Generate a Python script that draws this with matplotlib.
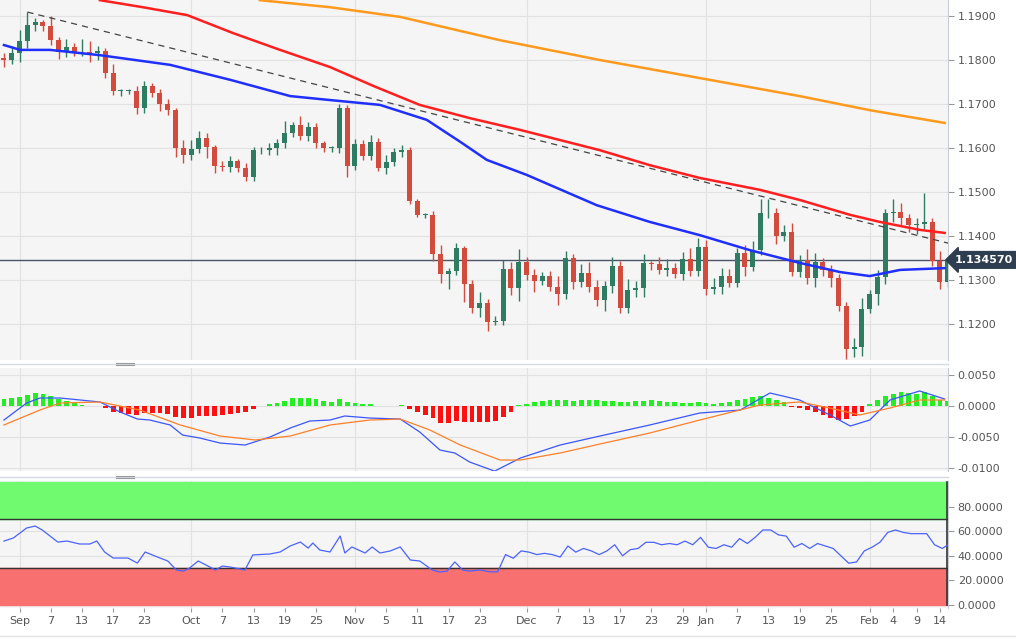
import numpy as np
import pandas as pd
import matplotlib
matplotlib.use("Agg")
import matplotlib.pyplot as plt
from matplotlib.patches import Rectangle

# ---------------- data ----------------
closes = [
    1.1800, 1.1816, 1.1843, 1.1880, 1.1886, 1.1877, 1.1845, 1.1818, 1.1830, 1.1818,
    1.1818, 1.1816, 1.1820, 1.1770, 1.1730, 1.1730, 1.1730, 1.1690, 1.1740, 1.1725,
    1.1700, 1.1686, 1.1600, 1.1584, 1.1598, 1.1623, 1.1602, 1.1559, 1.1557, 1.1570,
    1.1555, 1.1534, 1.1595, 1.1595, 1.1600, 1.1611, 1.1634, 1.1652, 1.1627, 1.1648,
    1.1611, 1.1600, 1.1600, 1.1690, 1.1559, 1.1609, 1.1582, 1.1614, 1.1555, 1.1568,
    1.1591, 1.1595, 1.1480, 1.1448, 1.1448, 1.1359, 1.1314, 1.1320, 1.1373, 1.1291,
    1.1236, 1.1248, 1.1205, 1.1207, 1.1325, 1.1282, 1.1341, 1.1311, 1.1298, 1.1309,
    1.1284, 1.1268, 1.1350, 1.1295, 1.1316, 1.1284, 1.1255, 1.1286, 1.1332, 1.1236,
    1.1277, 1.1282, 1.1339, 1.1337, 1.1323, 1.1327, 1.1314, 1.1348, 1.1320, 1.1375,
    1.1280, 1.1284, 1.1309, 1.1293, 1.1361, 1.1330, 1.1368, 1.1452, 1.1452, 1.1400,
    1.1409, 1.1318, 1.1345, 1.1305, 1.1341, 1.1323, 1.1305, 1.1241, 1.1143, 1.1148,
    1.1234, 1.1268, 1.1307, 1.1452, 1.1455, 1.1441, 1.1425, 1.1427, 1.1432, 1.1343,
    1.1295, 1.134570,
]
first_open = 1.1805
wick_up_pips = [
    12, 15, 25, 29, 10, 5, 22, 8, 18, 8,
    30, 25, 12, 8, 20, 5, 5, 10, 12, 8,
    10, 12, 5, 18, 20, 15, 12, 5, 12, 12,
    5, 10, 8, 8, 12, 10, 28, 8, 20, 12,
    8, 5, 5, 10, 8, 12, 10, 15, 8, 15,
    10, 12, 8, 5, 5, 8, 20, 8, 12, 5,
    10, 25, 8, 12, 20, 15, 30, 12, 15, 10,
    12, 25, 15, 10, 20, 25, 15, 12, 20, 12,
    25, 15, 20, 5, 15, 20, 12, 15, 25, 20,
    15, 20, 18, 15, 12, 18, 20, 31, 33, 12,
    15, 20, 12, 25, 20, 10, 12, 8, 10, 20,
    25, 10, 15, 10, 30, 20, 10, 15, 65, 8,
    22, 5,
]
wick_dn_pips = [
    15, 10, 20, 15, 15, 10, 10, 15, 12, 10,
    10, 20, 15, 12, 10, 12, 8, 12, 10, 10,
    15, 12, 20, 18, 12, 10, 25, 15, 10, 12,
    10, 10, 10, 8, 10, 15, 12, 8, 8, 12,
    10, 8, 8, 12, 25, 8, 10, 10, 8, 15,
    10, 12, 8, 5, 8, 15, 20, 35, 8, 41,
    12, 20, 20, 8, 10, 15, 30, 10, 25, 10,
    8, 25, 12, 15, 12, 12, 15, 25, 15, 10,
    12, 15, 20, 15, 10, 15, 10, 15, 10, 12,
    15, 12, 15, 10, 10, 20, 10, 12, 10, 18,
    12, 10, 12, 15, 20, 15, 20, 12, 22, 18,
    20, 10, 25, 15, 20, 15, 15, 20, 10, 12,
    15, 10,
]
last_price = 1.134570

# moving averages (bar index, value)
ma_blue_idx = [0, 2.1, 5.9, 12.3, 21.3, 29, 36.7, 41.8, 48.2, 54.2, 58.5, 61.9, 67, 76, 82.8, 89.2, 95.6, 102, 107.2, 111, 114.9, 120.6]
ma_blue_val = [1.1834, 1.1823, 1.1823, 1.1811, 1.1789, 1.1755, 1.1718, 1.1709, 1.1698, 1.1664, 1.1614, 1.1573, 1.1539, 1.1470, 1.1432, 1.1402, 1.1368, 1.1339, 1.1318, 1.1309, 1.1323, 1.1327]
ma_red_idx = [12.3, 17.8, 23.5, 29.4, 35.4, 41.8, 47.5, 53.3, 59.7, 66.2, 76.4, 82.8, 89.2, 96.9, 102, 108.5, 112.3, 117.4, 120.6]
ma_red_val = [1.1936, 1.1920, 1.1902, 1.1861, 1.1823, 1.1784, 1.1740, 1.1698, 1.1668, 1.1641, 1.1595, 1.1561, 1.1532, 1.1505, 1.1482, 1.1448, 1.1432, 1.1414, 1.1407]
ma_orange_idx = [32.8, 41.8, 50.8, 63.6, 76.4, 89.2, 102, 111, 120.6]
ma_orange_val = [1.1936, 1.1920, 1.1898, 1.1845, 1.1800, 1.1759, 1.1718, 1.1686, 1.1657]
trend_idx = [3, 121.9]
trend_val = [1.1909, 1.1380]

# MACD (values x 0.001)
macd_idx = [0, 2.9, 4.6, 7.2, 12.3, 14.9, 17.1, 18.7, 21.3, 22.9, 25.1, 27.7, 30.9, 34.1, 36.7, 39.2, 41.8, 43.7, 46.9, 50.8,
            53.3, 55.9, 57.8, 59.7, 62.9, 66.2, 71.3, 76.4, 82.8, 89.2, 94.4, 98.2, 102, 105.9, 108.5, 111, 113.6, 117.4, 120.6]
macd_val = [-2.26, 0.48, 1.29, 1.29, 0.65, -0.97, -2.1, -2.26, -3.06, -4.68, -5.16, -5.97, -6.29, -5.0, -3.55, -2.42, -2.26, -1.61, -1.94, -2.1,
            -4.19, -7.1, -7.58, -9.03, -10.5, -8.39, -6.29, -4.84, -3.06, -1.13, -0.65, 2.1, 0.97, -1.45, -3.23, -2.26, 0.97, 2.42, 1.13]
signal_idx = [0, 4.6, 7.2, 12.3, 17.4, 22.6, 27.7, 32.2, 36.7, 41.8, 46.9, 50.8, 54.6, 58.5, 63.6, 66.2, 71.3, 76.4, 82.8, 89.2,
              96.9, 102, 105.9, 109.7, 113.6, 117.4, 120.6]
signal_val = [-3.06, -0.65, 0.48, 0.65, -0.65, -3.06, -4.84, -5.48, -4.84, -3.06, -2.26, -2.1, -3.87, -6.29, -8.71, -8.71, -7.58, -6.13, -4.35, -2.26,
              0.16, 0.65, -0.32, -1.45, -0.32, 0.97, 0.97]
hist_val = [
    1.08, 1.24, 1.51, 1.83, 2.04, 1.88, 1.61, 1.08, 0.81, 0.43, 0.22, 0.05,
    0.0,
    -0.38, -0.91, -1.18, -1.34, -1.45, -1.18, -1.18, -1.18, -1.34, -1.83, -1.99, -1.99, -1.61, -1.55, -1.55, -1.45, -1.29, -1.08, -1.02, -0.54,
    0.0,
    0.32, 0.54, 0.86, 1.24, 1.24, 1.29, 1.08, 0.81, 0.70, 1.13, 0.59, 0.43, 0.32, 0.32, 0.05, 0.0, 0.05, 0.16,
    -0.54, -1.02, -1.45, -1.99, -2.69, -2.69, -2.42, -2.6, -2.6, -2.6, -2.5, -2.42,
    -1.8, -1.0,
    0.2, 0.4, 0.6, 0.8, 0.9, 0.9, 0.9, 0.8, 0.9, 0.9, 0.9, 0.8, 0.8, 0.7, 0.7, 0.8, 0.8, 0.9, 0.8, 0.7, 0.7, 0.5, 0.5, 0.6, 0.5, 0.4, 0.5, 0.6, 0.9, 1.2, 1.5, 1.6, 1.3, 1.0, 0.6,
    -0.1, -0.3, -0.6, -1.0, -1.4, -1.9, -2.3, -2.1, -1.6, -0.9,
    0.3, 0.9, 1.6, 2.0, 2.2, 2.1, 2.0, 2.2, 1.6, 1.0, 0.8,
]

# RSI
rsi_left_idx = [0, 1.2, 2.9, 4, 4.9, 6.9, 8.1, 9.7, 11, 11.9, 12.9, 14, 15.9, 17.1, 18.1, 20, 21, 22.1, 23, 23.8,
                24.9, 26.4, 27.1, 28, 29, 30.9, 31.9, 34.1, 35.4, 36.7, 38, 39, 39.6, 40.5, 41.8, 43.1, 43.7, 44.6, 46.3, 47.2,
                48.2, 49.5, 50.8, 52.1, 53.3, 54.9, 55.9, 56.8, 57.8, 58.8, 59.7, 61]
rsi_left_val = [52, 54.5, 62.6, 64.2, 61, 51.2, 52, 49.6, 49.6, 52, 43.1, 38.2, 38.2, 34.1, 43.1, 38.2, 35.8, 28.5, 27.6, 30.1,
                35.8, 30.9, 28.5, 31.7, 30.9, 28.5, 40.7, 41.5, 43.1, 48, 51.2, 46.3, 50.4, 44.7, 43.1, 56.1, 42.3, 47.2, 42.3, 47.2,
                42.3, 43.9, 47.2, 36.6, 35.8, 28.5, 26.8, 27.6, 35, 28.5, 27.6, 28.5]
rsi_right_val = [27, 27, 41, 38, 44, 43, 41, 42, 41, 39, 48, 43, 46, 44, 41, 44, 49, 40, 45, 46,
                 51, 51, 49, 50, 49, 52, 49, 55, 47, 46, 49, 47, 54, 50, 55, 61, 61, 57, 56, 47,
                 50, 46, 50, 48, 46, 40, 34, 35, 44, 47, 51, 59, 61, 59, 58, 58, 58, 49, 46, 50]
rsi_right_start = 62.3

tick_dates = ["2021-09-01", "2021-09-07", "2021-09-13", "2021-09-17", "2021-09-23",
              "2021-10-01", "2021-10-07", "2021-10-13", "2021-10-19", "2021-10-25",
              "2021-11-01", "2021-11-05", "2021-11-11", "2021-11-17", "2021-11-23",
              "2021-12-01", "2021-12-07", "2021-12-13", "2021-12-17", "2021-12-23", "2021-12-29",
              "2022-01-03", "2022-01-07", "2022-01-13", "2022-01-19", "2022-01-25",
              "2022-02-01", "2022-02-04", "2022-02-09", "2022-02-14"]
tick_labels = ["Sep", "7", "13", "17", "23", "Oct", "7", "13", "19", "25",
               "Nov", "5", "11", "17", "23", "Dec", "7", "13", "17", "23", "29",
               "Jan", "7", "13", "19", "25", "Feb", "4", "9", "14"]
month_dates = ["2021-09-01", "2021-10-01", "2021-11-01", "2021-12-01", "2022-01-03", "2022-02-01"]

# ---------------- figure ----------------
W, H = 1016, 639
fig = plt.figure(figsize=(W / 100, H / 100), dpi=100)
fig.patch.set_facecolor("white")

n = len(closes)
dates = pd.bdate_range(end="2022-02-15", periods=n)
pos = {d.strftime("%Y-%m-%d"): i for i, d in enumerate(dates)}
xt = [pos[d] for d in tick_dates]
xm = [pos[d] for d in month_dates]

x0, x1 = -0.51, 121.03
plot_w = 948


def add_ax(top, bottom):
    return fig.add_axes([0, 1 - bottom / H, plot_w / W, (bottom - top) / H])


GRID = "#e2e2e2"
BG = "#f5f5f5"
TXT = "#555555"


def style(ax):
    ax.set_facecolor(BG)
    ax.set_xlim(x0, x1)
    ax.set_axisbelow(True)
    for s in ["left", "top", "bottom"]:
        ax.spines[s].set_visible(False)
    ax.spines["right"].set_color("#c8ccd6")
    ax.yaxis.tick_right()
    ax.tick_params(axis="y", colors="#999999", labelcolor=TXT, labelsize=8, length=4, pad=3)
    ax.tick_params(axis="x", length=0)
    ax.grid(True, axis="y", color=GRID, lw=0.8, zorder=0)
    for m in xm:
        ax.axvline(m, color=GRID, lw=0.8, zorder=0.5)
    ax.set_xticks([])


# main price panel
ax = add_ax(0, 360)
style(ax)
ax.set_ylim(1.11182, 1.19364)
ax.set_yticks(np.arange(1.12, 1.1901, 0.01))
ax.set_yticklabels([f"{v:.4f}" for v in np.arange(1.12, 1.1901, 0.01)])

opens = [first_open] + closes[:-1]
up_c, dn_c = "#2e7d62", "#d24c3e"
for i, (o, c) in enumerate(zip(opens, closes)):
    col = up_c if c >= o else dn_c
    hi = max(o, c) + wick_up_pips[i] * 1e-4
    lo = min(o, c) - wick_dn_pips[i] * 1e-4
    ax.vlines(i, lo, hi, color=col, lw=1, zorder=3)
    body = max(abs(c - o), 0.00012)
    ax.add_patch(Rectangle((i - 0.32, min(o, c)), 0.64, body, color=col, zorder=4, lw=0))

ax.plot(ma_orange_idx, ma_orange_val, color="#ff9a1f", lw=1.8, zorder=5)
ax.plot(ma_red_idx, ma_red_val, color="#ff1f1f", lw=1.8, zorder=5)
ax.plot(ma_blue_idx, ma_blue_val, color="#1f2fff", lw=1.8, zorder=5)
ax.plot(trend_idx, trend_val, color="#444444", lw=0.9, ls=(0, (5, 4)), zorder=5)
ax.axhline(last_price, color="#4a5568", lw=1, zorder=2)
ax.text(x1 + 0.9, last_price, f"{last_price:.6f}", color="white", fontsize=8, fontweight="bold",
        va="center", ha="left", zorder=10, clip_on=False,
        bbox=dict(boxstyle="larrow,pad=0.3", fc="#2d3e50", ec="#2d3e50"))

# MACD panel
ax2 = add_ax(368, 471)
style(ax2)
ax2.set_ylim(-10.48, 6.13)
ax2.set_yticks([5, 0, -5, -10])
ax2.set_yticklabels(["0.0050", "0.0000", "-0.0050", "-0.0100"])
hcols = ["#22ee22" if v >= 0 else "#ff1010" for v in hist_val]
ax2.bar(range(len(hist_val)), hist_val, width=0.62, color=hcols, zorder=3)
ax2.plot(macd_idx, macd_val, color="#3a56ff", lw=0.9, zorder=4)
ax2.plot(signal_idx, signal_val, color="#ff7f27", lw=0.9, zorder=4)

# RSI panel
ax3 = add_ax(481, 608)
style(ax3)
ax3.set_ylim(-2.4, 100.8)
ax3.set_yticks([0, 20, 40, 60, 80])
ax3.set_yticklabels(["0.0000", "20.0000", "40.0000", "60.0000", "80.0000"])
ax3.axhspan(70, 100, color="#70fa70", zorder=1)
ax3.axhspan(0, 30, color="#f87070", zorder=1)
ax3.axhline(70, color="#333333", lw=1, zorder=2)
ax3.axhline(30, color="#333333", lw=1, zorder=2)
ax3.axvline(x1 - 0.12, ymin=0.02, ymax=0.99, color="#333333", lw=1.2, zorder=3)
rsi_right_idx = [rsi_right_start + k for k in range(len(rsi_right_val))]
ax3.plot(rsi_left_idx + rsi_right_idx, rsi_left_val + rsi_right_val, color="#4a63ff", lw=0.9, zorder=4)
ax3.set_xticks(xt)
ax3.set_xticklabels(tick_labels)
ax3.tick_params(axis="x", length=3, colors="#999999", labelcolor=TXT, labelsize=8, pad=3)

# panel separators and handles
for yy in [364, 477]:
    fig.add_artist(plt.Line2D([0, plot_w / W], [1 - yy / H, 1 - yy / H], color="#d5d9e2", lw=1))
    for dy in (-1.2, 0.8):
        fig.add_artist(plt.Line2D([116 / W, 134 / W], [1 - (yy + dy) / H] * 2, color="#9a9a9a", lw=0.8))
fig.add_artist(plt.Line2D([0, 1], [1 - 636 / H] * 2, color="#e4e4e4", lw=1))

fig.savefig("out.png", dpi=100, facecolor="white")
